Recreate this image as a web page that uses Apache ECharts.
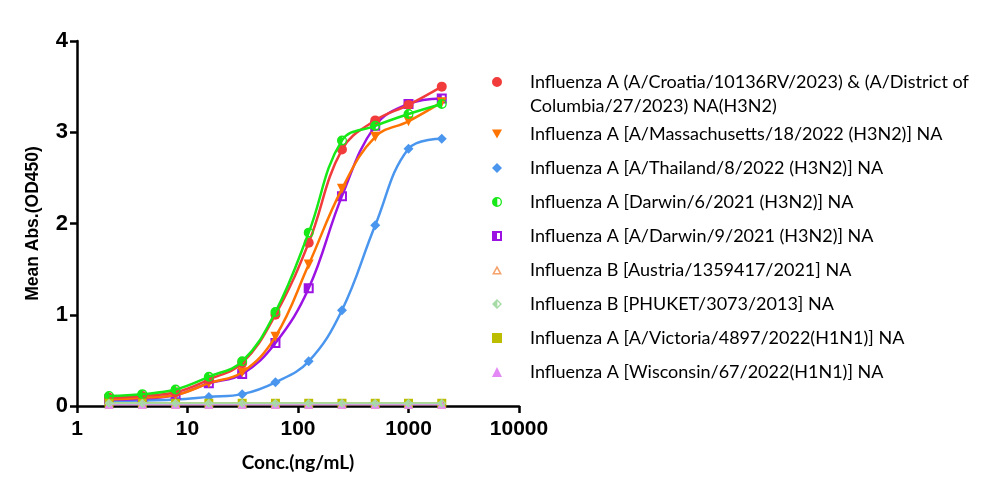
<!DOCTYPE html>
<html>
<head>
<meta charset="utf-8">
<script src="https://cdn.jsdelivr.net/npm/echarts@6/dist/echarts.min.js"></script>
<style>
  html, body { margin: 0; padding: 0; background: #fff; }
  #chart { width: 1000px; height: 494px; }
</style>
</head>
<body>
<div id="chart"></div>
<script>
// concentrations (ng/mL)
var conc = [1.95, 3.9, 7.8, 15.6, 31.25, 62.5, 125, 250, 500, 1000, 2000];

var names = [
  "Influenza A (A/Croatia/10136RV/2023) & (A/District of Columbia/27/2023) NA(H3N2)",
  "Influenza A [A/Massachusetts/18/2022 (H3N2)] NA",
  "Influenza A [A/Thailand/8/2022 (H3N2)] NA",
  "Influenza A [Darwin/6/2021 (H3N2)] NA",
  "Influenza A [A/Darwin/9/2021 (H3N2)] NA",
  "Influenza B [Austria/1359417/2021] NA",
  "Influenza B [PHUKET/3073/2013] NA",
  "Influenza A [A/Victoria/4897/2022(H1N1)] NA",
  "Influenza A [Wisconsin/67/2022(H1N1)] NA"
];

// mean OD450 per concentration
var croatia = [0.09, 0.11, 0.15, 0.29, 0.47, 1.00, 1.79, 2.81, 3.13, 3.30, 3.50];
var massachusetts = [0.07, 0.09, 0.12, 0.25, 0.37, 0.76, 1.55, 2.38, 2.95, 3.12, 3.33];
var thailand = [0.05, 0.06, 0.07, 0.10, 0.13, 0.26, 0.49, 1.05, 1.98, 2.82, 2.93];
var darwin6 = [0.11, 0.13, 0.18, 0.32, 0.49, 1.03, 1.90, 2.91, 3.07, 3.20, 3.31];
var darwin9 = [0.07, 0.08, 0.12, 0.25, 0.35, 0.69, 1.29, 2.30, 3.07, 3.31, 3.37];
var austria = [0.02, 0.02, 0.02, 0.02, 0.02, 0.02, 0.02, 0.02, 0.02, 0.02, 0.02];
var phuket = [0.03, 0.03, 0.03, 0.03, 0.03, 0.03, 0.03, 0.03, 0.03, 0.03, 0.03];
var victoria = [0.03, 0.03, 0.03, 0.03, 0.03, 0.03, 0.03, 0.03, 0.03, 0.03, 0.03];
var wisconsin = [0.02, 0.02, 0.02, 0.02, 0.02, 0.02, 0.02, 0.02, 0.02, 0.02, 0.02];

var values = [croatia, massachusetts, thailand, darwin6, darwin9, austria, phuket, victoria, wisconsin];

var colors = ["#f23c3c", "#ff7400", "#4a96ee", "#17e817", "#9c12e3", "#f5a26b", "#a6dba6", "#bdbd00", "#e388f5"];

var symbols = [
  "circle",
  "path://M0,0 L10,0 L5,9 Z",
  "diamond",
  "path://M5,0 A5,5 0 1,1 5,10 A5,5 0 1,1 5,0 Z M5.3,1.6 L5.3,8.4 A3.4,3.4 0 0,0 5.3,1.6 Z",
  "path://M0,0 L10,0 L10,10 L0,10 Z M5,2 L5,8 L8,8 L8,2 Z",
  "path://M5,0 L10,9 L0,9 Z M5,3.2 L2.6,7.6 L7.4,7.6 Z",
  "path://M5,0 L10,5 L5,10 L0,5 Z M5.4,2.2 L5.4,7.8 L8,5 Z",
  "rect",
  "triangle"
];

// draw order: flat negatives under the light green one
var zOrder = [6, 5, 3, 7, 4, 9, 11, 8, 10];

// circle sitting on the first text line of a two-line legend item
var firstIcon = "path://M5,0 A5,5 0 1,1 5,10 A5,5 0 1,1 5,0 Z M5,34 L5,34 Z";

var series = names.map(function (n, i) {
  return {
    name: n,
    type: "line",
    smooth: 0.4,
    data: conc.map(function (c, j) { return [c, values[i][j]]; }),
    symbol: symbols[i],
    symbolSize: i >= 5 ? 9 : 10,
    showSymbol: true,
    color: colors[i],
    itemStyle: { color: colors[i], borderWidth: 0 },
    lineStyle: { width: i >= 5 ? 2 : 2.5, color: colors[i] },
    z: zOrder[i]
  };
});

var chart = echarts.init(document.getElementById("chart"));

var option = {
  animation: false,
  backgroundColor: "#fff",
  grid: { left: 77, top: 41, width: 442, height: 365, containLabel: false },
  xAxis: {
    type: "log",
    logBase: 10,
    min: 1,
    max: 10000,
    name: "Conc.(ng/mL)",
    nameLocation: "middle",
    nameGap: 47,
    nameTextStyle: { fontFamily: "Lato", fontWeight: "bold", fontSize: 19, color: "#000" },
    axisLine: { lineStyle: { color: "#000", width: 2.5 } },
    axisTick: { show: true, length: 7, lineStyle: { color: "#000", width: 2.5 } },
    minorTick: { show: false },
    splitLine: { show: false },
    axisLabel: {
      margin: 13,
      fontFamily: "Liberation Sans",
      fontWeight: "bold",
      fontSize: 21,
      color: "#000",
      formatter: function (v) { return String(v); }
    }
  },
  yAxis: {
    type: "value",
    min: 0,
    max: 4,
    interval: 1,
    name: "Mean Abs.(OD450)",
    nameLocation: "middle",
    nameGap: 35,
    nameTextStyle: { fontFamily: "Liberation Sans", fontWeight: "bold", fontSize: 17.5, color: "#000" },
    axisLine: { show: true, lineStyle: { color: "#000", width: 2.5 } },
    axisTick: { show: true, length: 7, lineStyle: { color: "#000", width: 2.5 } },
    splitLine: { show: false },
    axisLabel: { margin: 9, fontFamily: "Liberation Sans", fontWeight: "bold", fontSize: 22, color: "#000" }
  },
  legend: [
    {
      orient: "vertical",
      left: 492,
      top: 70,
      padding: 0,
      itemWidth: 10,
      itemHeight: 34,
      itemStyle: { borderWidth: 0 },
      data: [{ name: names[0], icon: firstIcon }],
      formatter: function () {
        return "Influenza A (A/Croatia/10136RV/2023) & (A/District of\nColumbia/27/2023) NA(H3N2)";
      },
      textStyle: { fontFamily: "Lato", fontSize: 18, lineHeight: 24, color: "#000", padding: [0, 0, 0, 23] }
    },
    {
      orient: "vertical",
      left: 492,
      top: 124,
      padding: 0,
      itemWidth: 10,
      itemHeight: 10,
      itemGap: 14,
      itemStyle: { borderWidth: 0 },
      data: names.slice(1).map(function (n, i) { return { name: n, icon: symbols[i + 1] }; }),
      textStyle: { fontFamily: "Lato", fontSize: 18, lineHeight: 20, color: "#000", padding: [0, 0, 0, 23] }
    }
  ],
  series: series
};

chart.setOption(option);
</script>
</body>
</html>
